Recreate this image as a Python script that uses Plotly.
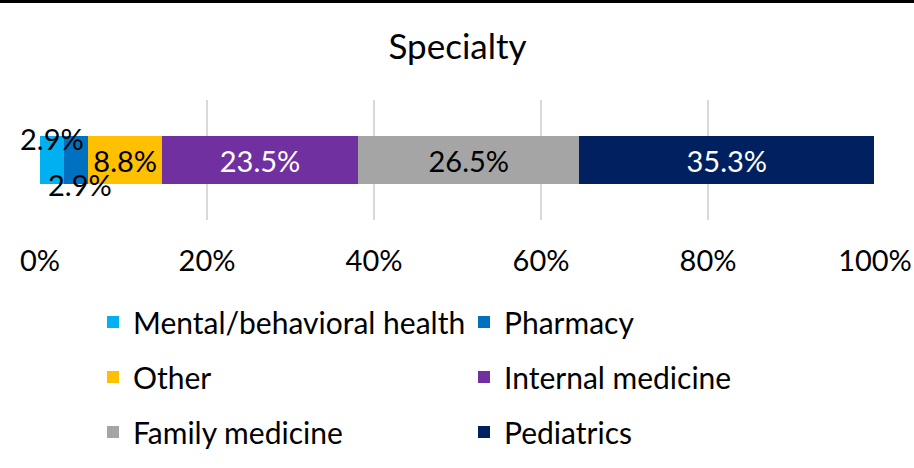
import plotly.graph_objects as go

categories = ["Mental/behavioral health", "Pharmacy", "Other", "Internal medicine", "Family medicine", "Pediatrics"]
values = [2.9, 2.9, 8.8, 23.5, 26.5, 35.3]
colors = ["#00B0F0", "#0070C0", "#FFC000", "#7030A0", "#A5A5A5", "#002060"]
label_colors = ["black", "black", "black", "white", "black", "white"]
tick_vals = [0, 20, 40, 60, 80, 100]
tick_text = ["0%", "20%", "40%", "60%", "80%", "100%"]
legend_ids = ["legend", "legend", "legend2", "legend2", "legend3", "legend3"]

FONT = "Lato"
FS = 29
LFS = 30
TFS = 35

fig = go.Figure()
for i, (cat, v) in enumerate(zip(categories, values)):
    small = i < 2
    fig.add_trace(go.Bar(
        x=[v], y=["Specialty"], orientation="h", name=cat,
        marker=dict(color=colors[i], line=dict(width=0)),
        text=[None if small else f"{v:.1f}%"],
        textposition="inside", insidetextanchor="middle",
        textfont=dict(color=label_colors[i], size=FS, family=FONT),
        legend=legend_ids[i], hoverinfo="skip",
    ))

# labels of the two small segments, placed outside like the original
cum = 0
shifts = [22, -24]
xshifts = [0, 4]
for i in range(2):
    center = cum + values[i] / 2
    cum += values[i]
    fig.add_annotation(x=center, y="Specialty", text=f"{values[i]:.1f}%", showarrow=False,
                       yshift=shifts[i], xshift=xshifts[i],
                       font=dict(size=FS, family=FONT, color="black"))

W, H = 914, 468
L, R, T, B = 40, 39, 100, 248
ph = H - T - B
pw = W - L - R

def py(pix):
    return (H - B - pix) / ph

leg_common = dict(orientation="h", xanchor="left", yanchor="middle", traceorder="normal",
                  font=dict(size=LFS, family=FONT, color="black"),
                  entrywidth=326, entrywidthmode="pixels",
                  bgcolor="rgba(0,0,0,0)", itemclick=False, itemdoubleclick=False)
lx = (93 - L) / pw
fig.update_layout(
    legend=dict(x=lx, y=py(322), **leg_common),
    legend2=dict(x=lx, y=py(377), **leg_common),
    legend3=dict(x=lx, y=py(432), **leg_common),
)

fig.update_layout(
    width=W, height=H,
    margin=dict(l=L, r=R, t=T, b=B, autoexpand=False),
    barmode="stack", bargap=0.6,
    paper_bgcolor="white", plot_bgcolor="white",
    title=dict(text="Specialty", x=0.5, xref="paper", y=1 - 47 / H, yanchor="middle",
               font=dict(size=TFS, family=FONT, color="black")),
    xaxis=dict(range=[0, 100], tickvals=tick_vals, ticktext=tick_text, automargin=False,
               showgrid=True, gridcolor="#D9D9D9", gridwidth=2, zeroline=False,
               showline=False, ticks="", ticklabelstandoff=21,
               tickfont=dict(size=FS, family=FONT, color="black")),
    yaxis=dict(showticklabels=False, showgrid=False, zeroline=False, showline=False,
               automargin=False),
    font=dict(family=FONT),
    showlegend=True,
)

fig.add_shape(type="line", xref="paper", yref="paper",
              x0=-L / pw, x1=1 + R / pw, y0=py(1.5), y1=py(1.5),
              line=dict(color="black", width=3))

fig.write_html("out.html", config={"displayModeBar": False},
               post_script="document.body.style.margin='0';")
